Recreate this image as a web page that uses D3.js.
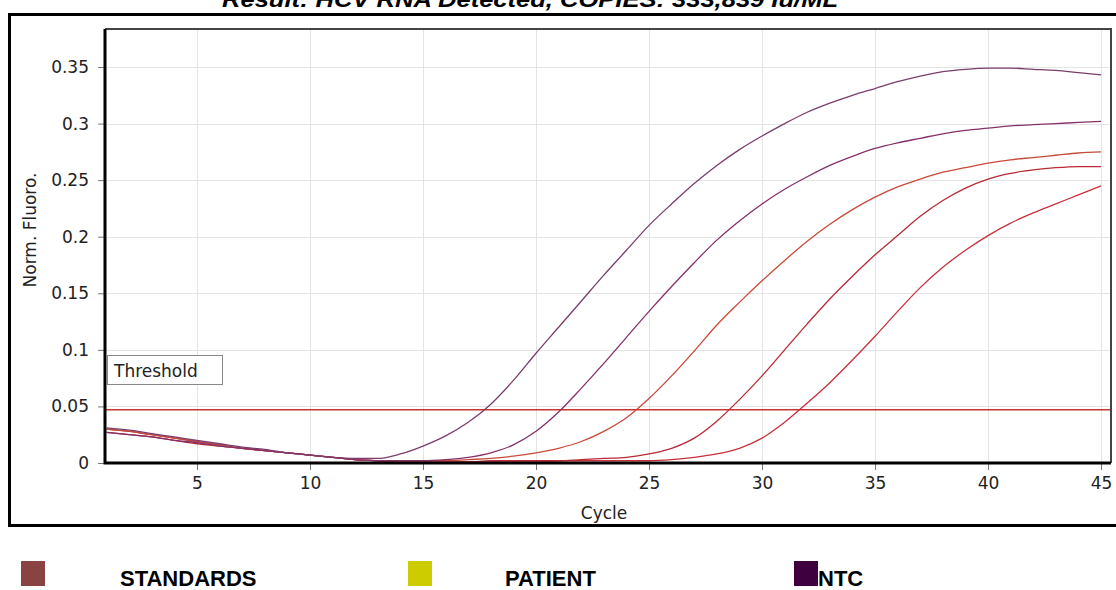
<!DOCTYPE html>
<html>
<head>
<meta charset="utf-8">
<script src="https://cdn.jsdelivr.net/npm/d3@7"></script>
<style>
  body { margin: 0; background: #fff; }
  svg { display: block; }
</style>
</head>
<body>
<svg id="chart" width="1116" height="590"></svg>
<script>
// cycles 1..45
var cycles = d3.range(1, 46);

// standards (Norm. Fluoro. per cycle)
var std1 = [0.031,0.029,0.026,0.023,0.020,0.017,0.014,0.012,0.009,0.007,0.005,0.004,0.004,0.008,0.015,
            0.024,0.036,0.052,0.073,0.097,0.120,0.143,0.166,0.188,0.210,0.229,0.247,0.263,0.277,0.289,
            0.300,0.310,0.318,0.325,0.331,0.337,0.342,0.346,0.348,0.349,0.349,0.348,0.347,0.345,0.343];
var std2 = [0.027,0.025,0.023,0.020,0.018,0.015,0.013,0.011,0.009,0.007,0.005,0.003,0.002,0.002,0.002,
            0.003,0.005,0.009,0.016,0.028,0.045,0.066,0.088,0.111,0.134,0.156,0.177,0.197,0.214,0.229,
            0.242,0.253,0.263,0.271,0.278,0.283,0.287,0.291,0.294,0.296,0.298,0.299,0.300,0.301,0.302];
var std3 = [0.030,0.028,0.025,0.022,0.019,0.016,0.013,0.011,0.009,0.007,0.005,0.003,0.002,0.002,0.002,
            0.002,0.003,0.004,0.006,0.009,0.013,0.019,0.028,0.040,0.057,0.077,0.099,0.122,0.142,0.161,
            0.179,0.196,0.211,0.224,0.235,0.244,0.251,0.257,0.261,0.265,0.268,0.270,0.272,0.274,0.275];
var std4 = [0.027,0.025,0.023,0.020,0.017,0.015,0.013,0.011,0.009,0.007,0.005,0.003,0.002,0.001,0.001,
            0.001,0.001,0.002,0.002,0.002,0.002,0.003,0.004,0.005,0.008,0.013,0.022,0.037,0.056,0.077,
            0.100,0.123,0.145,0.165,0.184,0.201,0.218,0.232,0.243,0.251,0.256,0.259,0.261,0.262,0.262];
var std5 = [0.030,0.028,0.025,0.022,0.019,0.016,0.013,0.011,0.009,0.007,0.005,0.003,0.002,0.001,0.001,
            0.001,0.001,0.001,0.001,0.001,0.002,0.002,0.002,0.002,0.002,0.003,0.005,0.008,0.013,0.022,
            0.036,0.053,0.071,0.091,0.112,0.134,0.155,0.173,0.188,0.201,0.212,0.221,0.229,0.237,0.245];
var ntc  = [0.000,0.000,0.000,0.000,0.000,0.000,0.000,0.000,0.000,0.000,0.000,0.000,0.000,0.000,0.000,
            0.000,0.000,0.000,0.000,0.000,0.000,0.000,0.000,0.000,0.000,0.000,0.000,0.000,0.000,0.000,
            0.000,0.000,0.000,0.000,0.000,0.000,0.000,0.000,0.000,0.000,0.000,0.000,0.000,0.000,0.000];

var threshold = 0.047;
var xTicks = [5, 10, 15, 20, 25, 30, 35, 40, 45];
var yTicks = [0, 0.05, 0.1, 0.15, 0.2, 0.25, 0.3, 0.35];
var legendNames = ["STANDARDS", "PATIENT", "NTC"];

var curves = [
  { values: std5, color: "#c8303c" },
  { values: std4, color: "#b82a34" },
  { values: std3, color: "#c84a38" },
  { values: std2, color: "#86306a" },
  { values: std1, color: "#7a3d6c" },
  { values: ntc,  color: "#3d0040" }
];

var svg = d3.select("#chart");
var pLeft = 105, pRight = 1111, pTop = 29, pBottom = 463;

var x = d3.scaleLinear().domain([0.93, 45.44]).range([pLeft, pRight]);
var y = d3.scaleLinear().domain([0, 0.3836]).range([pBottom, pTop]);

// title (clipped at the top like the source)
svg.append("text")
    .attr("x", 530).attr("y", 7)
    .attr("text-anchor", "middle")
    .attr("font-family", "Liberation Sans, Arial, sans-serif")
    .attr("font-weight", "bold").attr("font-style", "italic")
    .attr("font-size", 22)
    .attr("textLength", 616).attr("lengthAdjust", "spacingAndGlyphs")
    .text("Result: HCV RNA Detected, COPIES: 333,839 Iu/ML");

// outer frame
svg.append("rect")
    .attr("x", 9.5).attr("y", 14.5).attr("width", 1120).attr("height", 511)
    .attr("fill", "none").attr("stroke", "#000").attr("stroke-width", 3);

// grid
var grid = svg.append("g").attr("stroke", "#e4e4e4").attr("stroke-width", 1);
grid.selectAll(".vg").data(xTicks).enter().append("line")
    .attr("x1", function(d) { return Math.round(x(d)) + 0.5; })
    .attr("x2", function(d) { return Math.round(x(d)) + 0.5; })
    .attr("y1", pTop).attr("y2", pBottom);
grid.selectAll(".hg").data(yTicks.slice(1)).enter().append("line")
    .attr("y1", function(d) { return Math.round(y(d)) + 0.5; })
    .attr("y2", function(d) { return Math.round(y(d)) + 0.5; })
    .attr("x1", pLeft).attr("x2", pRight);

// axes
var yAxis = svg.append("g")
    .attr("transform", "translate(" + pLeft + ",0)")
    .call(d3.axisLeft(y).tickValues(yTicks).tickSize(7).tickPadding(9)
          .tickFormat(function(d) { return d === 0 ? "0" : String(+d.toFixed(2)); }));
var xAxis = svg.append("g")
    .attr("transform", "translate(0," + pBottom + ")")
    .call(d3.axisBottom(x).tickValues(xTicks).tickSize(7).tickPadding(7));
[yAxis, xAxis].forEach(function(a) {
  a.select(".domain").remove();
  a.selectAll(".tick line").attr("stroke", "#777");
  a.selectAll(".tick text").attr("fill", "#222")
      .attr("font-family", "DejaVu Sans, sans-serif").attr("font-size", 17);
});

// threshold
svg.append("line")
    .attr("x1", pLeft).attr("x2", pRight)
    .attr("y1", y(threshold)).attr("y2", y(threshold))
    .attr("stroke", "#cc3333").attr("stroke-width", 1.6);
svg.append("rect")
    .attr("x", 107.5).attr("y", 355.5).attr("width", 115).attr("height", 29)
    .attr("fill", "#fff").attr("stroke", "#888");
svg.append("text")
    .attr("x", 114).attr("y", 377)
    .attr("font-family", "DejaVu Sans, sans-serif").attr("font-size", 17).attr("fill", "#222")
    .text("Threshold");

// curves
var line = d3.line()
    .x(function(d, i) { return x(cycles[i]); })
    .y(function(d) { return y(d); })
    .curve(d3.curveMonotoneX);
svg.append("g").selectAll("path").data(curves).enter().append("path")
    .attr("d", function(d) { return line(d.values); })
    .attr("fill", "none")
    .attr("stroke", function(d) { return d.color; })
    .attr("stroke-width", function(d, i) { return i === curves.length - 1 ? 2 : 1.3; });

// plot frame
svg.append("path")
    .attr("d", "M" + pLeft + "," + pTop + "H" + pRight + "V" + pBottom)
    .attr("fill", "none").attr("stroke", "#444").attr("stroke-width", 2);
svg.append("path")
    .attr("d", "M" + pLeft + "," + pTop + "V" + pBottom + "H" + pRight)
    .attr("fill", "none").attr("stroke", "#000").attr("stroke-width", 3);

// axis titles
svg.append("text")
    .attr("x", 604).attr("y", 519).attr("text-anchor", "middle")
    .attr("font-family", "DejaVu Sans, sans-serif").attr("font-size", 17).attr("fill", "#222")
    .text("Cycle");
svg.append("text")
    .attr("transform", "translate(36,230) rotate(-90)").attr("text-anchor", "middle")
    .attr("font-family", "DejaVu Sans, sans-serif").attr("font-size", 17).attr("fill", "#222")
    .text("Norm. Fluoro.");

// legend
var legendColors = ["#8a4343", "#cccc00", "#3f003f"];
var legendX = [21, 408, 794];
var legendTextX = [120, 505, 818];
var lg = svg.append("g").selectAll("g").data(legendNames).enter().append("g");
lg.append("rect")
    .attr("x", function(d, i) { return legendX[i]; }).attr("y", 561)
    .attr("width", 24).attr("height", 25)
    .attr("fill", function(d, i) { return legendColors[i]; });
lg.append("text")
    .attr("x", function(d, i) { return legendTextX[i]; }).attr("y", 586)
    .attr("font-family", "Liberation Sans Narrow, Liberation Sans, Arial, sans-serif")
    .attr("font-weight", "bold").attr("font-size", 22)
    .text(function(d) { return d; });
</script>
</body>
</html>
